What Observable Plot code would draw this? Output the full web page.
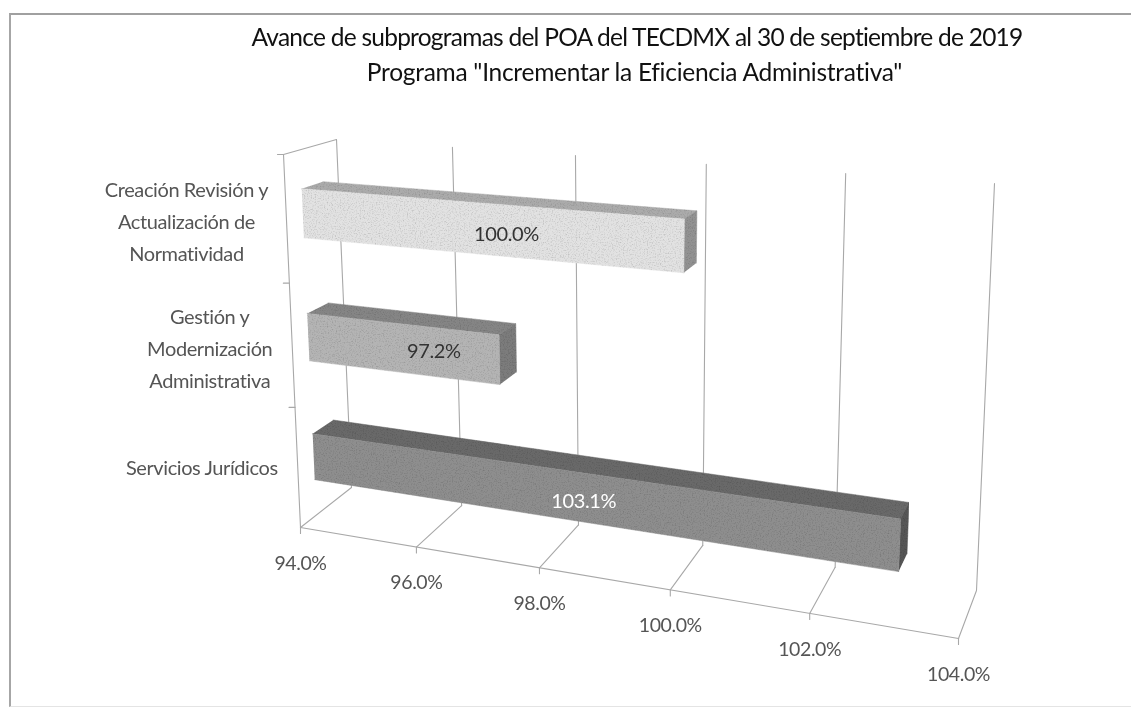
<!DOCTYPE html>
<html lang="es">
<head>
<meta charset="utf-8">
<script src="https://cdn.jsdelivr.net/npm/d3@7"></script>
<script src="https://cdn.jsdelivr.net/npm/@observablehq/plot@0.6"></script>
<style>
html,body{margin:0;padding:0;background:#fff;}
#frame{position:relative;width:1131px;height:708px;overflow:hidden;background:#fff;filter:blur(0.65px);}
#box{position:absolute;left:9px;top:13px;right:-5px;bottom:1px;border-left:2px solid #a6a6a6;border-top:2px solid #a0a0a0;border-bottom:1px solid #e4e4e4;box-sizing:border-box;}
#titles{position:absolute;left:0;top:0;width:1131px;height:90px;font-family:Lato,sans-serif;font-size:24.5px;color:#111;text-align:center;}
#titles div{position:absolute;left:0;white-space:nowrap;line-height:30px;}
#t1{top:22px;width:1274px;letter-spacing:-0.75px;}
#t2{top:57px;width:1269px;letter-spacing:-0.27px;}
#chart{position:absolute;left:0;top:90px;}
</style>
</head>
<body>
<svg width="0" height="0" style="position:absolute"><filter id="grain" x="0" y="0" width="100%" height="100%"><feTurbulence type="fractalNoise" baseFrequency="0.75" numOctaves="2" seed="4"/><feColorMatrix type="matrix" values="0 0 0 0 0 0 0 0 0 0 0 0 0 0 0 0 0 0 -0.8 0.42"/><feComposite in2="SourceAlpha" operator="in"/><feComposite in2="SourceGraphic" operator="over"/></filter></svg>
<div id="frame">
  <div id="box"></div>
  <div id="titles">
    <div id="t1">Avance de subprogramas del POA del TECDMX al 30 de septiembre de 2019</div>
    <div id="t2">Programa "Incrementar la Eficiencia Administrativa"</div>
  </div>
  <div id="chart"></div>
</div>
<script>
// Data
const categories = ["Creación Revisión y\nActualización de\nNormatividad", "Gestión y\nModernización\nAdministrativa", "Servicios Jurídicos"];
const values = [100.0, 97.2, 103.1];
const valueLabels = ["100.0%", "97.2%", "103.1%"];
const frontColors = ["#e2e2e2", "#b4b4b4", "#8e8e8e"];
const topColors = ["#ababab", "#858585", "#696969"];
const sideColors = ["#929292", "#7b7b7b", "#565656"];
const labelColors = ["#333333", "#333333", "#ffffff"];
const tickValues = [94, 96, 98, 100, 102, 104];
const tickLabels = ["94.0%", "96.0%", "98.0%", "100.0%", "102.0%", "104.0%"];

// Perspective camera for the 3-D box: value, height (0 bottom..1 top), depth (0 front..1 back)
const corners = {
  f0b: [300, 527], f1b: [958, 638], f0t: [283, 154], f1t: [980, 203],
  b0b: [351, 487], b1b: [976, 590], b0t: [336, 139], b1t: [994, 183]
};
const warp = (s, k) => s / (s + (1 - s) * k);
const mix = (a, b, s) => [a[0] + (b[0] - a[0]) * s, a[1] + (b[1] - a[1]) * s];
function project(value, h, depth) {
  const t = warp((value - 94) / 10, 1.169), v = warp(h, 1.053), c = corners;
  const front = mix(mix(c.f0b, c.f1b, t), mix(c.f0t, c.f1t, t), v);
  const back = mix(mix(c.b0b, c.b1b, t), mix(c.b0t, c.b1t, t), v);
  return mix(front, back, depth);
}
const D0 = 0.31, D1 = 0.71, HALF = 0.065;
const centers = [5 / 6, 1 / 2, 1 / 6];

const segs = [];
const seg = (id, ...pts) => pts.forEach((p) => segs.push({id, p: project(...p)}));
tickValues.forEach((x) => {
  seg("wall" + x, [x, 0, 1], [x, 1, 1]);
  seg("floor" + x, [x, 0, 0], [x, 0, 1]);
});
seg("left", [94, 1, 0], [94, 0, 0]);
seg("topedge", [94, 1, 0], [94, 1, 1]);
seg("axis", [94, 0, 0], [104, 0, 0]);

const faces = [];
values.forEach((val, i) => {
  const lo = centers[i] - HALF, hi = centers[i] + HALF;
  const face = (kind, color, pts) => pts.forEach((p) => faces.push({id: kind + i, color, p: project(...p)}));
  face("top", topColors[i], [[94, hi, D0], [val, hi, D0], [val, hi, D1], [94, hi, D1]]);
  face("side", sideColors[i], [[val, lo, D0], [val, hi, D0], [val, hi, D1], [val, lo, D1]]);
  face("front", frontColors[i], [[94, lo, D0], [val, lo, D0], [val, hi, D0], [94, hi, D0]]);
});

const barLabelShift = [[13, 5], [30, 3], [-23, 1]];
const barLabels = values.map((val, i) => {
  const a = project(94, centers[i], D0), b = project(val, centers[i], D0);
  return {text: valueLabels[i], color: labelColors[i],
    x: (a[0] + b[0]) / 2 + barLabelShift[i][0], y: (a[1] + b[1]) / 2 + barLabelShift[i][1]};
});

const catShift = [[-100, -1], [-82.5, 0], [-96, -3]];
const catLabels = categories.map((text, i) => {
  const a = project(94, centers[i], 0);
  return {text, x: a[0] + catShift[i][0], y: a[1] + catShift[i][1]};
});

const axisLabels = tickValues.map((x, i) => {
  const a = project(x, 0, 0);
  return {text: tickLabels[i], x: a[0], y: a[1] + 36};
});

const xTicks = tickValues.flatMap((x) => [
  {id: x, p: project(x, 0, 0)},
  {id: x, p: [project(x, 0, 0)[0], project(x, 0, 0)[1] + 6]}
]);
const yTicks = [1 / 3, 2 / 3, 1].flatMap((h) => [
  {id: h, p: project(94, h, 0)},
  {id: h, p: [project(94, h, 0)[0] - 6, project(94, h, 0)[1]]}
]);

const X = (d) => d.p[0], Y = (d) => d.p[1];
const lineColor = "#a8a8a8";
const chart = Plot.plot({
  width: 1131,
  height: 618,
  margin: 0,
  style: {letterSpacing: "-0.4px"},
  x: {domain: [0, 1131], range: [0, 1131], axis: null},
  y: {domain: [90, 708], range: [0, 618], axis: null},
  marks: [
    Plot.line(segs, {x: X, y: Y, z: "id", stroke: lineColor, strokeWidth: 1.1}),
    Plot.line(xTicks, {x: X, y: Y, z: "id", stroke: lineColor, strokeWidth: 1.1}),
    Plot.line(yTicks, {x: X, y: Y, z: "id", stroke: lineColor, strokeWidth: 1.1}),
    Plot.line(faces, {x: X, y: Y, z: "id", fill: "color", stroke: "color", strokeWidth: 0.5, imageFilter: "url(#grain)"}),
    Plot.text(barLabels, {x: "x", y: "y", text: "text", fill: "color", fontSize: 20, fontFamily: "Lato, sans-serif"}),
    Plot.text(catLabels, {x: "x", y: "y", text: "text", fill: "#555", fontSize: 20, lineHeight: 1.6, fontFamily: "Lato, sans-serif"}),
    Plot.text(axisLabels, {x: "x", y: "y", text: "text", fill: "#555", fontSize: 19.5, fontFamily: "Lato, sans-serif"})
  ]
});
chart.style.background = "transparent";
document.getElementById("chart").append(chart);
</script>
</body>
</html>
